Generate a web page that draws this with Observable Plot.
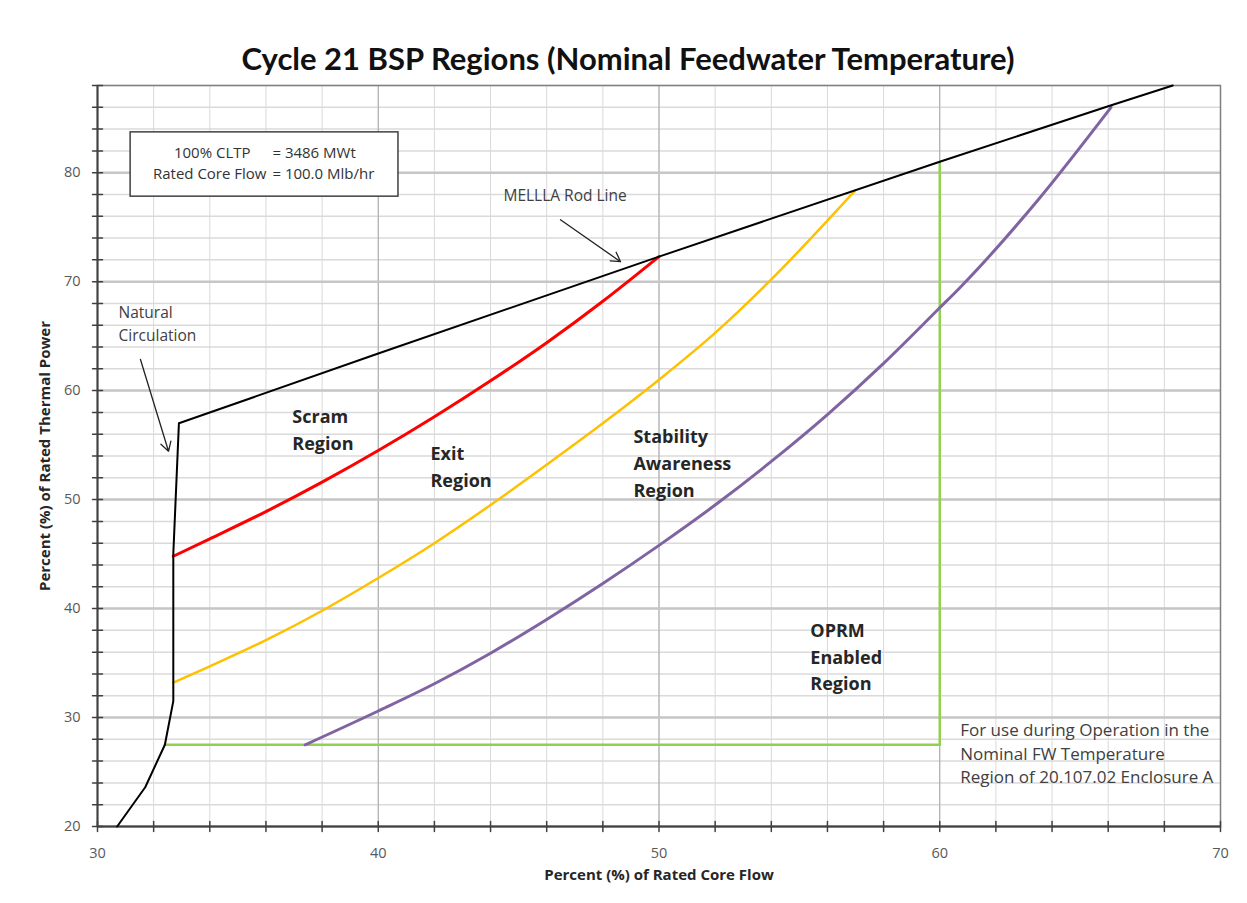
<!DOCTYPE html>
<html><head><meta charset="utf-8">
<script src="https://cdn.jsdelivr.net/npm/d3@7"></script>
<script src="https://cdn.jsdelivr.net/npm/@observablehq/plot@0.6"></script>
<style>
body{margin:0;background:#fff;font-family:"Open Sans",Lato,sans-serif;}
#title{height:80px;box-sizing:border-box;padding-top:39px;padding-left:9px;text-align:center;font-family:Lato,sans-serif;font-weight:bold;font-size:31px;line-height:38px;color:#111;}
#chart svg{display:block;}
</style></head><body>
<div id="title">Cycle 21 BSP Regions (Nominal Feedwater Temperature)</div>
<div id="chart"></div>
<script>
// ---- data ----
const xMajor = [30, 40, 50, 60, 70];
const yMajor = [20, 30, 40, 50, 60, 70, 80];
const xMinor = d3.range(30, 71, 2);
const yMinor = d3.range(20, 89, 2);

const rodFlow  = [30.7, 31.7, 32.4, 32.7, 32.7, 32.9, 40.0, 50.0, 60.0, 66.0, 68.3];
const rodPower = [20.0, 23.6, 27.5, 31.5, 45.0, 57.0, 63.4, 72.3, 81.0, 86.1, 88.0];

const scramFlow  = [32.7, 34.0, 36.0, 38.0, 40.0, 42.0, 44.0, 46.0, 48.0, 50.0];
const scramPower = [44.8, 46.4, 48.9, 51.6, 54.5, 57.6, 60.9, 64.4, 68.2, 72.3];

const exitFlow  = [32.7, 34.0, 36.0, 38.0, 40.0, 42.0, 44.0, 46.0, 48.0, 50.0, 52.0, 54.0, 56.0, 57.0];
const exitPower = [33.2, 34.7, 37.1, 39.8, 42.8, 46.0, 49.5, 53.2, 57.0, 61.0, 65.3, 70.2, 75.6, 78.4];

const stabFlow  = [37.4, 40.0, 42.0, 44.0, 46.0, 48.0, 50.0, 52.0, 54.0, 56.0, 58.0, 60.0, 60.7, 63.5, 66.1];
const stabPower = [27.5, 30.6, 33.1, 35.9, 39.0, 42.3, 45.8, 49.5, 53.5, 57.8, 62.5, 67.6, 69.4, 77.5, 86.0];

const oprmFlow  = [32.4, 60.0, 60.0];
const oprmPower = [27.5, 27.5, 81.0];

const regionNames = ["Scram\nRegion", "Exit\nRegion", "Stability\nAwareness\nRegion", "OPRM\nEnabled\nRegion"];
const regionFlow  = [36.94, 41.86, 49.09, 55.39];
const regionPower = [56.6, 53.2, 53.5, 35.75];

const noteNames = ["MELLLA Rod Line", "Natural\nCirculation"];
const noteFlow  = [44.46, 30.75];
const notePower = [78.06, 66.25];

const arrowFrom = [[46.49, 75.68], [31.53, 62.86]];
const arrowTo   = [[48.63, 71.83], [32.53, 54.43]];

const boxFlow  = [31.18, 40.72];
const boxPower = [77.8, 83.7];
const boxLeft  = ["100% CLTP", "Rated Core Flow"];
const boxRight = ["= 3486 MWt", "= 100.0 Mlb/hr"];
const boxLeftEnd = [35.45, 36.02];
const boxEq = 36.23;
const boxLinePower = [81.8, 79.9];

const footText = "For use during Operation in the\nNominal FW Temperature\nRegion of 20.107.02 Enclosure A";
const footFlow = 60.73, footPower = 26.8;

const xLabel = "Percent (%) of Rated Core Flow";
const yLabel = "Percent (%) of Rated Thermal Power";

// ---- chart ----
const tickShape = {draw(ctx, l) { ctx.moveTo(0, 0); ctx.lineTo(0, -l); }};
const font = "'Open Sans', Lato, sans-serif";

const chart = Plot.plot({
  width: 1247, height: 823,
  marginLeft: 97, marginRight: 27, marginTop: 5, marginBottom: 77,
  x: {domain: [30, 70]},
  y: {domain: [20, 88]},
  style: {fontFamily: font, background: "#fff", overflow: "visible"},
  marks: [
    Plot.ruleX(xMinor, {stroke: "#d9d9d9", strokeWidth: 1}),
    Plot.ruleY(yMinor, {stroke: "#dadada", strokeWidth: 1.5}),
    Plot.ruleX(xMajor, {stroke: "#a6a6a6", strokeWidth: 1}),
    Plot.ruleY(yMajor, {stroke: "#c6c6c6", strokeWidth: 2.5}),
    Plot.frame({stroke: "#7f7f7f", strokeWidth: 1.5}),
    Plot.ruleX([30], {stroke: "#404040", strokeWidth: 2}),
    Plot.ruleY([20], {stroke: "#404040", strokeWidth: 2}),
    Plot.vector(xMinor, {x: d => d, y: 20, length: 10, rotate: 0, anchor: "middle", shape: tickShape, stroke: "#404040", strokeWidth: 1.5}),
    Plot.vector(yMinor, {x: 30, y: d => d, length: 10, rotate: 90, anchor: "middle", shape: tickShape, stroke: "#404040", strokeWidth: 1.5}),
    Plot.axisX(xMajor, {tickSize: 0, tickPadding: 21, fontSize: 14.5, fill: "#595959", label: null}),
    Plot.axisY(yMajor, {tickSize: 0, tickPadding: 17, fontSize: 14.5, fill: "#595959", label: null}),
    Plot.text([xLabel], {frameAnchor: "bottom", dy: 53, fontSize: 15, fontWeight: "bold", fill: "#262626"}),
    Plot.text([yLabel], {frameAnchor: "left", dx: -52, rotate: -90, textAnchor: "middle", fontSize: 15, fontWeight: "bold", fill: "#262626"}),
    // curves
    Plot.line(oprmFlow, {x: oprmFlow, y: oprmPower, stroke: "#92d050", strokeWidth: 2.5}),
    Plot.line(stabFlow, {x: stabFlow, y: stabPower, stroke: "#8064a2", strokeWidth: 3, curve: "monotone-x"}),
    Plot.line(exitFlow, {x: exitFlow, y: exitPower, stroke: "#ffc000", strokeWidth: 2.5, curve: "monotone-x"}),
    Plot.line(scramFlow, {x: scramFlow, y: scramPower, stroke: "#ff0000", strokeWidth: 3, curve: "monotone-x"}),
    Plot.line(rodFlow, {x: rodFlow, y: rodPower, stroke: "#000", strokeWidth: 2}),
    // info box
    Plot.rect([0], {x1: boxFlow[0], x2: boxFlow[1], y1: boxPower[0], y2: boxPower[1], fill: "#fff", stroke: "#404040", strokeWidth: 1.5}),
    Plot.text(boxLeft, {x: boxLeftEnd, y: boxLinePower, textAnchor: "end", fontSize: 15, fill: "#333"}),
    Plot.text(boxRight, {x: boxRight.map(() => boxEq), y: boxLinePower, textAnchor: "start", fontSize: 15, fill: "#333"}),
    // annotations
    Plot.text(regionNames, {x: regionFlow, y: regionPower, textAnchor: "start", fontSize: 18, fontWeight: "bold", fill: "#262626", lineHeight: 1.5}),
    Plot.text(noteNames, {x: noteFlow, y: notePower, textAnchor: "start", fontSize: 15.5, fill: "#404040", lineHeight: 1.45}),
    Plot.arrow(arrowFrom, {x1: d => d[0], y1: d => d[1], x2: (d, i) => arrowTo[i][0], y2: (d, i) => arrowTo[i][1], stroke: "#222", strokeWidth: 1.3, headLength: 12}),
    Plot.text([footText], {x: footFlow, y: footPower, textAnchor: "start", fontSize: 17, fill: "#404040", lineHeight: 1.38})
  ]
});
document.getElementById("chart").appendChild(chart);
</script>
</body></html>
